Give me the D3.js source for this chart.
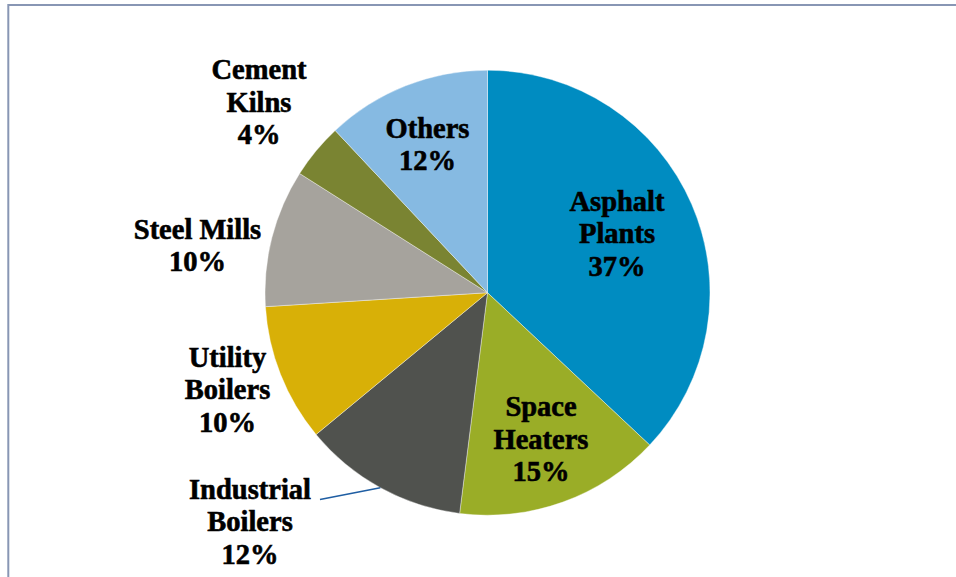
<!DOCTYPE html>
<html>
<head>
<meta charset="utf-8">
<script src="https://cdn.jsdelivr.net/npm/d3@7/dist/d3.min.js"></script>
<style>
  html, body { margin: 0; padding: 0; background: #fff; }
  svg { display: block; }
</style>
</head>
<body>
<svg id="chart" width="956" height="577"></svg>
<script>
// Emission sources, clockwise from 12 o'clock
const sources = ["Asphalt Plants", "Space Heaters", "Industrial Boilers", "Utility Boilers", "Steel Mills", "Cement Kilns", "Others"];
const shares = [37, 15, 12, 10, 10, 4, 12];
const sliceColors = ["#008cc1", "#9aad27", "#50524e", "#d8b007", "#a6a39d", "#7a8432", "#86bae2"];

// Label lines per slice
const labelLines = [
  ["Asphalt", "Plants"],
  ["Space", "Heaters"],
  ["Industrial", "Boilers"],
  ["Utility", "Boilers"],
  ["Steel Mills"],
  ["Cement", "Kilns"],
  ["Others"]
];

// Label placement: centre x and first baseline
const labelPos = [
  { x: 617, y: 210.5 },
  { x: 541, y: 416 },
  { x: 250, y: 498.5 },
  { x: 227.5, y: 366.5 },
  { x: 197.5, y: 238.5 },
  { x: 259, y: 79 },
  { x: 427.5, y: 137.5 }
];
const lineGap = 32.7;

const svg = d3.select("#chart");
const cx = 487.5, cy = 292.7, radius = 222.5;

// chart frame
svg.append("rect")
  .attr("x", 8.3).attr("y", 5)
  .attr("width", 980).attr("height", 620)
  .attr("fill", "none")
  .attr("stroke", "#8896b4")
  .attr("stroke-width", 2);

const data = sources.map((s, i) => ({ name: s, value: shares[i], color: sliceColors[i], lines: labelLines[i], pos: labelPos[i] }));

const pie = d3.pie().value(d => d.value).sort(null);
const arcs = pie(data);
const arc = d3.arc().innerRadius(0).outerRadius(radius);

const g = svg.append("g").attr("transform", `translate(${cx},${cy})`);

g.selectAll("path.slice")
  .data(arcs)
  .join("path")
  .attr("class", "slice")
  .attr("d", arc)
  .attr("fill", d => d.data.color)
  .attr("stroke", "#ffffff")
  .attr("stroke-opacity", 0.55)
  .attr("stroke-width", 0.7);

// leader line for the label placed outside the pie
const ind = arcs[2];
const midA = (ind.startAngle + ind.endAngle) / 2;
const edge = [cx + radius * Math.sin(midA), cy - radius * Math.cos(midA)];
svg.append("path")
  .attr("d", d3.line()([[320, 499.5], edge]))
  .attr("fill", "none")
  .attr("stroke", "#1f5ea3")
  .attr("stroke-width", 1.6);

// slice labels
const labels = svg.append("g")
  .attr("font-family", "'Liberation Serif', 'Times New Roman', serif")
  .attr("font-weight", "bold")
  .attr("font-size", 28.5)
  .attr("fill", "#000")
  .attr("stroke", "#000")
  .attr("stroke-width", 0.6)
  .attr("text-anchor", "middle");

data.forEach(d => {
  const t = labels.append("text").attr("x", d.pos.x).attr("y", d.pos.y);
  const all = d.lines.concat([d.value + "%"]);
  all.forEach((line, k) => {
    t.append("tspan")
      .attr("x", d.pos.x)
      .attr("y", d.pos.y + k * lineGap)
      .text(line);
  });
});
</script>
</body>
</html>
